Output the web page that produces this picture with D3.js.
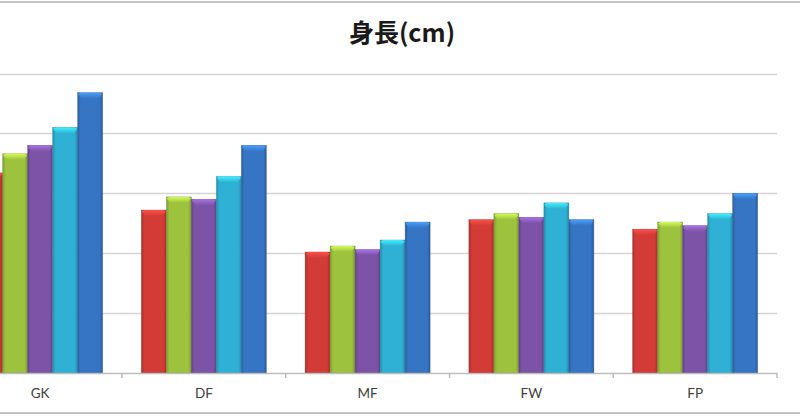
<!DOCTYPE html>
<html><head><meta charset="utf-8">
<script src="https://cdn.jsdelivr.net/npm/d3@7"></script>
<style>html,body{margin:0;padding:0;background:#fff;overflow:hidden}</style>
</head><body>
<svg id="chart" width="800" height="419"></svg>
<script>
const categories = ["GK", "DF", "MF", "FW", "FP"];
const seriesNames = ["系列1", "系列2", "系列3", "系列4", "系列5"];
const series1 = [181.7, 178.6, 175.1, 177.8, 177.0];
const series2 = [183.3, 179.7, 175.6, 178.3, 177.6];
const series3 = [184.0, 179.5, 175.3, 178.0, 177.3];
const series4 = [185.5, 181.4, 176.1, 179.2, 178.3];
const series5 = [188.4, 184.0, 177.6, 177.8, 180.0];
const yTicks = [165, 170, 175, 180, 185, 190];
const title = "身長(cm)";

const seriesValues = [series1, series2, series3, series4, series5];
const colors = ["#d23b36", "#9cc23e", "#7c53a7", "#2eb1d4", "#3675c4"];

const svg = d3.select("#chart");
const W = 800, H = 419;
const plot = {left: -41.75, right: 777, top: 73.5, bottom: 373};

// chart border lines
svg.append("line").attr("x1", 0).attr("x2", W).attr("y1", 2).attr("y2", 2)
  .attr("stroke", "#c4c4c4").attr("stroke-width", 2);
svg.append("line").attr("x1", 0).attr("x2", W).attr("y1", 413).attr("y2", 413)
  .attr("stroke", "#c4c4c4").attr("stroke-width", 2);

const x0 = d3.scaleBand().domain(categories).range([plot.left, plot.right]).paddingInner(0).paddingOuter(0);
const x1 = d3.scaleBand().domain(seriesNames).range([0, x0.bandwidth()]).paddingInner(0).paddingOuter(0.775);
const y = d3.scaleLinear().domain([yTicks[0], yTicks[yTicks.length - 1]]).range([plot.bottom, plot.top]);

// gridlines
svg.append("g").selectAll("line").data(yTicks.slice(1)).join("line")
  .attr("x1", plot.left).attr("x2", plot.right)
  .attr("y1", d => Math.round(y(d)) + 0.5).attr("y2", d => Math.round(y(d)) + 0.5)
  .attr("stroke", "#d4d4d4").attr("stroke-width", 1.5);

// gradients
const defs = svg.append("defs");
colors.forEach((c, i) => {
  const base = d3.color(c);
  const g = defs.append("linearGradient").attr("id", "g" + i).attr("x1", "0").attr("x2", "1").attr("y1", "0").attr("y2", "0");
  g.append("stop").attr("offset", "0%").attr("stop-color", base.darker(0.6));
  g.append("stop").attr("offset", "12%").attr("stop-color", base);
  g.append("stop").attr("offset", "88%").attr("stop-color", base);
  g.append("stop").attr("offset", "100%").attr("stop-color", base.darker(0.7));
  const v = defs.append("linearGradient").attr("id", "v" + i).attr("x1", "0").attr("x2", "0").attr("y1", "0").attr("y2", "1");
  v.append("stop").attr("offset", "0%").attr("stop-color", base.brighter(0.9));
  v.append("stop").attr("offset", "100%").attr("stop-color", base);
});

const rows = [];
categories.forEach((cat, ci) => {
  seriesNames.forEach((s, si) => rows.push({cat, s, si, v: seriesValues[si][ci]}));
});

const bars = svg.append("g");
const bx = d => x0(d.cat) + x1(d.s);
bars.selectAll("rect.bar").data(rows).join("rect").attr("class", "bar")
  .attr("x", bx).attr("width", x1.bandwidth())
  .attr("y", d => y(d.v)).attr("height", d => plot.bottom - y(d.v))
  .attr("fill", d => `url(#g${d.si})`)
  .attr("stroke", d => d3.color(colors[d.si]).darker(0.8)).attr("stroke-width", 0.6).attr("stroke-opacity", 0.6);
bars.selectAll("path.cap").data(rows).join("path").attr("class", "cap")
  .attr("d", d => {
    const xl = bx(d), w = x1.bandwidth(), yt = y(d.v);
    return `M${xl + 0.5},${yt + 1.5} Q${xl + 1},${yt} ${xl + 4},${yt} L${xl + w - 4},${yt} Q${xl + w - 1},${yt} ${xl + w - 0.5},${yt + 1.5} L${xl + w - 4},${yt + 6} L${xl + 4},${yt + 6} Z`;
  })
  .attr("fill", d => `url(#v${d.si})`).attr("opacity", 0.95);

// x axis
svg.append("line").attr("x1", plot.left).attr("x2", plot.right)
  .attr("y1", plot.bottom + 0.5).attr("y2", plot.bottom + 0.5)
  .attr("stroke", "#bdbdbd").attr("stroke-width", 1.5);
const boundaries = categories.map(c => x0(c) + x0.bandwidth());
svg.append("g").selectAll("line").data(boundaries).join("line")
  .attr("x1", d => d).attr("x2", d => d)
  .attr("y1", plot.bottom).attr("y2", plot.bottom + 5)
  .attr("stroke", "#bdbdbd").attr("stroke-width", 1.5);
svg.append("g").selectAll("text").data(categories).join("text")
  .attr("x", d => x0(d) + x0.bandwidth() / 2).attr("y", 398)
  .attr("text-anchor", "middle")
  .attr("font-family", "Lato, 'Open Sans', sans-serif").attr("font-size", 13.5)
  .attr("fill", "#404040").text(d => d);

// title
svg.append("text").attr("x", 402).attr("y", 42).attr("text-anchor", "middle")
  .attr("font-family", "'Noto Sans CJK JP', sans-serif").attr("font-weight", "bold")
  .attr("font-size", 25).attr("fill", "#1a1a1a").text(title);
</script>
</body></html>
